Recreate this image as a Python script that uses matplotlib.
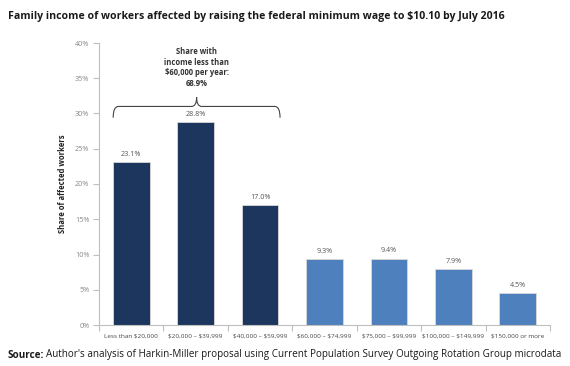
import matplotlib.pyplot as plt
from matplotlib.path import Path
import matplotlib.patches as mpatches
import numpy as np

plt.rcParams['font.family'] = ['Open Sans', 'DejaVu Sans']

# ==== data ====
categories = ["Less than \\$20,000", "\\$20,000 \u2013 \\$39,999", "\\$40,000 \u2013 \\$59,999",
              "\\$60,000 \u2013 \\$74,999", "\\$75,000 \u2013 \\$99,999", "\\$100,000 \u2013 \\$149,999",
              "\\$150,000 or more"]
shares = [23.1, 28.8, 17.0, 9.3, 9.4, 7.9, 4.5]
under_60k = [True, True, True, False, False, False, False]
share_under_60k = 68.9

dark = "#1c365e"
light = "#4e80bd"
grey = "#bfbfbf"
txt = "#555555"

fig = plt.figure(figsize=(5.7, 3.66), dpi=100)
ax = fig.add_axes([99 / 570, 1 - 325 / 366, 451 / 570, 282 / 366])

x = np.arange(len(categories))
colors = [dark if u else light for u in under_60k]
ax.bar(x, shares, width=0.57, color=colors, edgecolor="#d9d9d9", linewidth=0.6, zorder=2)

for xi, v in zip(x, shares):
    ax.text(xi, v + 0.6, f"{v:.1f}%", ha="center", va="bottom", fontsize=5.2, color=txt)

ax.set_xlim(-0.5, len(categories) - 0.5)
ax.set_ylim(0, 40)
ax.set_yticks(np.arange(0, 41, 5))
ax.set_yticklabels([f"{t}%" for t in range(0, 41, 5)], fontsize=5.2, color="#888888")
ax.set_xticks(x)
ax.set_xticklabels(categories, fontsize=4.6, color="#444444")
ax.set_xticks(np.arange(-0.5, len(categories), 1), minor=True)
ax.tick_params(axis="x", which="major", length=0, pad=6)
ax.tick_params(axis="x", which="minor", length=4, color=grey, width=0.8)
ax.tick_params(axis="y", length=4, color=grey, width=0.8, pad=3)

for s in ["top", "right"]:
    ax.spines[s].set_visible(False)
ax.spines["left"].set_color(grey)
ax.spines["bottom"].set_color(grey)
ax.spines["left"].set_linewidth(0.8)
ax.spines["bottom"].set_linewidth(0.8)

ax.set_ylabel("Share of affected workers", fontsize=5.5, fontweight="bold", color="#222222", labelpad=6)

# ==== brace ====
xl, xr = -0.28, 2.31
xm = (xl + xr) / 2
yb, yh, yt = 29.4, 31.0, 32.3
dx = 0.08
verts = [(xl, yb), (xl, yh), (xl + dx, yh), (xm - dx, yh), (xm, yh), (xm, yt),
         (xm, yt), (xm, yh), (xm + dx, yh), (xr - dx, yh), (xr, yh), (xr, yb)]
codes = [Path.MOVETO, Path.CURVE3, Path.CURVE3, Path.LINETO, Path.CURVE3, Path.CURVE3,
         Path.MOVETO, Path.CURVE3, Path.CURVE3, Path.LINETO, Path.CURVE3, Path.CURVE3]
ax.add_patch(mpatches.PathPatch(Path(verts, codes), fill=False, edgecolor="#444444", linewidth=0.8))

ax.text(xm, 33.6, f"Share with\nincome less than\n\\$60,000 per year:\n{share_under_60k}%",
        ha="center", va="bottom", fontsize=5.5, fontweight="bold", color="#333333", linespacing=1.25)

# ==== titles ====
fig.text(8 / 570, 1 - 17 / 366, "Family income of workers affected by raising the federal minimum wage to \\$10.10 by July 2016",
         ha="left", va="center", fontsize=7.6, fontweight="bold", color="#1a1a1a")
src = fig.text(8 / 570, 1 - 355 / 366, "Source:", ha="left", va="center",
               fontsize=7.1, fontweight="bold", color="#1a1a1a")
fig.canvas.draw()
bb = src.get_window_extent()
fig.text(bb.x1 / fig.bbox.width + 2 / 570, 1 - 355 / 366,
         "Author's analysis of Harkin-Miller proposal using Current Population Survey Outgoing Rotation Group microdata",
         ha="left", va="center", fontsize=7.1, color="#1a1a1a")

plt.savefig("out.png", dpi=100)
